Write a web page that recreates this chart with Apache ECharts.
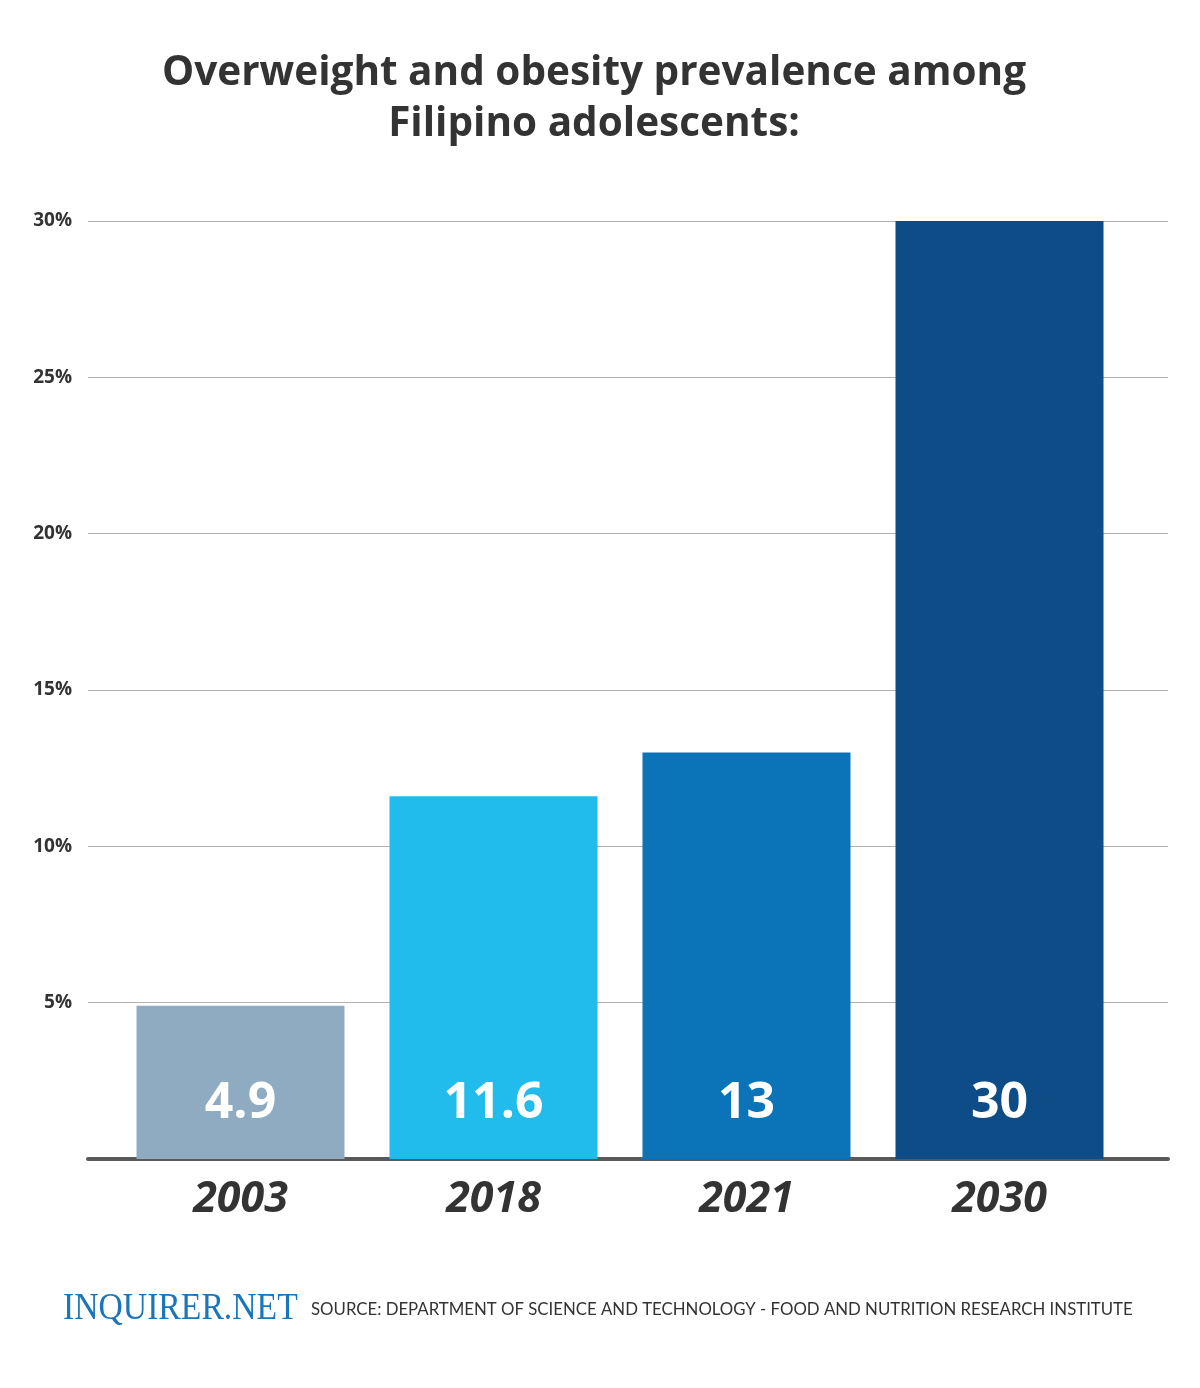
<!DOCTYPE html>
<html>
<head>
<meta charset="utf-8">
<script src="https://cdn.jsdelivr.net/npm/echarts@6/dist/echarts.min.js"></script>
<style>
  html, body { margin: 0; padding: 0; background: #fff; }
  #chart { width: 1200px; height: 1388px; }
</style>
</head>
<body>
<div id="chart"></div>
<script>
const years = ['2003', '2018', '2021', '2030'];
const prevalence = [4.9, 11.6, 13, 30];
const barColors = ['#8eabc1', '#21bcec', '#0b74b8', '#0e4c88'];
const yTicks = [0, 5, 10, 15, 20, 25, 30];

const chart = echarts.init(document.getElementById('chart'));

const option = {
  backgroundColor: '#fff',
  animation: false,
  grid: [
    { left: 88, right: 32, top: 221, bottom: 229 },
    { left: 114, right: 74, top: 221, bottom: 229 },
  ],
  xAxis: [
    {
      gridIndex: 0,
      type: 'value',
      min: 0,
      max: 1,
      axisLine: { show: true, lineStyle: { color: '#58595b', width: 4 } },
      axisTick: { show: false },
      axisLabel: { show: false },
      splitLine: { show: false },
    },
    {
      gridIndex: 1,
      type: 'category',
      data: years,
      axisLine: { show: false },
      axisTick: { show: false },
      axisLabel: {
        margin: 19,
        fontFamily: 'Open Sans',
        fontWeight: 'bold',
        fontStyle: 'italic',
        fontSize: 43,
        color: '#333333',
      },
    },
  ],
  yAxis: [
    {
      gridIndex: 0,
      type: 'value',
      min: yTicks[0],
      max: yTicks[yTicks.length - 1],
      interval: 5,
      axisLine: { show: false },
      axisTick: { show: false },
      splitLine: { lineStyle: { color: '#b3b3b3', width: 1 } },
      axisLabel: {
        margin: 16,
        fontFamily: 'Open Sans',
        fontWeight: 'bold',
        fontSize: 19,
        color: '#333333',
        formatter: (v) => (v === 0 ? '' : v + '%'),
      },
    },
    {
      gridIndex: 1,
      type: 'value',
      min: 0,
      max: 30,
      show: false,
    },
  ],
  series: [
    {
      type: 'bar',
      xAxisIndex: 1,
      yAxisIndex: 1,
      barWidth: 208,
      z: 3,
      data: prevalence.map((v, i) => ({
        value: v,
        itemStyle: { color: barColors[i] },
      })),
      label: {
        show: true,
        position: 'insideBottom',
        distance: 30,
        fontFamily: 'Open Sans',
        fontWeight: 'bold',
        fontSize: 50,
        color: '#ffffff',
      },
    },
  ],
  graphic: [
    {
      type: 'text',
      x: 594,
      y: 48,
      style: {
        text: 'Overweight and obesity prevalence among\nFilipino adolescents:',
        textAlign: 'center',
        fontFamily: 'Open Sans',
        fontWeight: 'bold',
        fontSize: 40.5,
        lineHeight: 51,
        fill: '#333333',
      },
    },
    {
      type: 'text',
      left: 63,
      top: 1290,
      scaleX: 0.886,
      style: {
        text: 'INQUIRER.NET',
        fontFamily: 'Liberation Serif',
        fontSize: 38,
        fill: '#1b75bb',
      },
    },
    {
      type: 'text',
      left: 311,
      top: 1301,
      style: {
        text: 'SOURCE: DEPARTMENT OF SCIENCE AND TECHNOLOGY - FOOD AND NUTRITION RESEARCH INSTITUTE',
        fontFamily: 'Lato',
        fontSize: 16.8,
        fill: '#333333',
      },
    },
  ],
};

chart.setOption(option);
</script>
</body>
</html>
